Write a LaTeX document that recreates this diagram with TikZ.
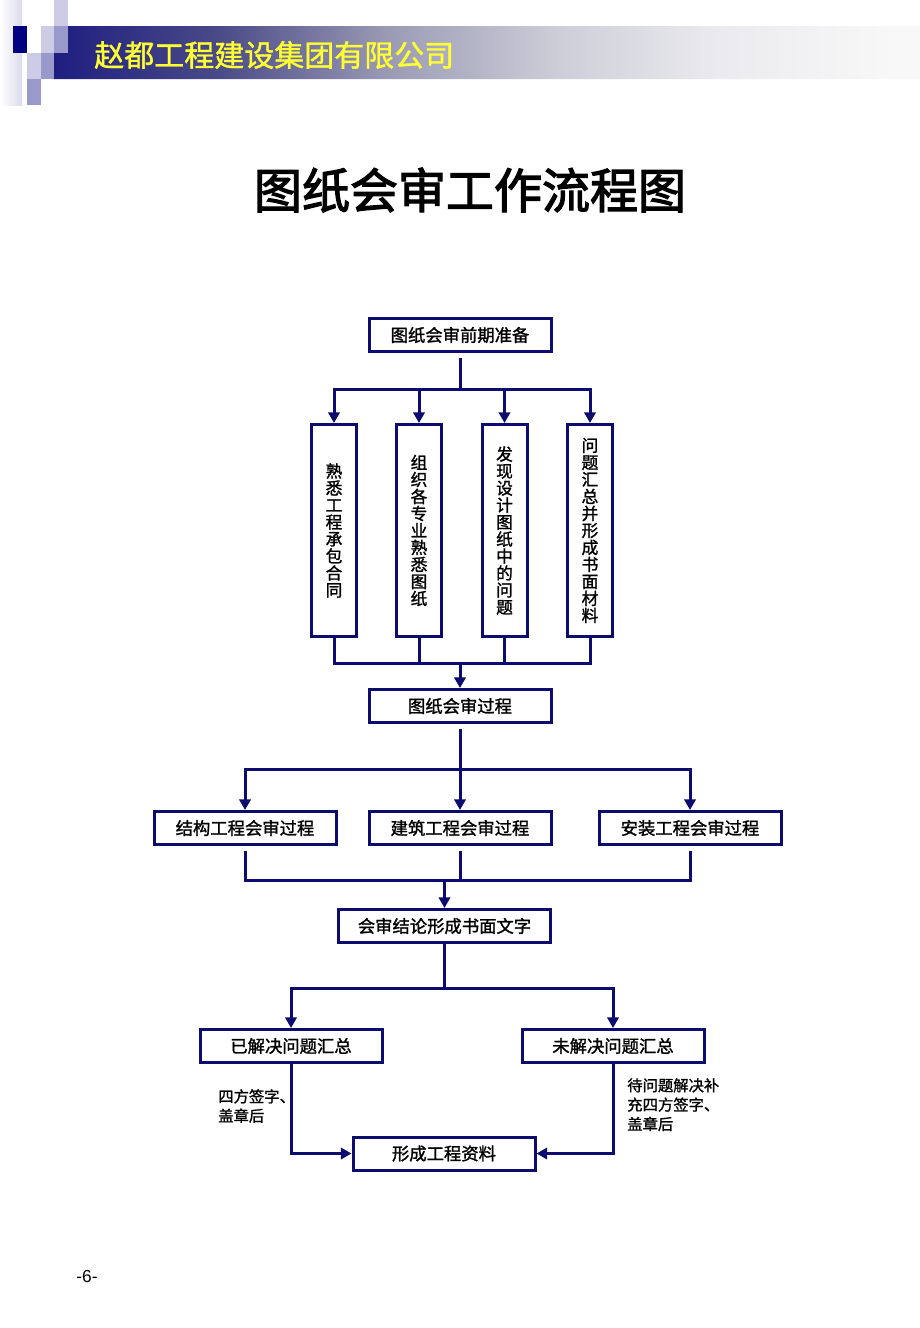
\documentclass[tikz,border=0pt]{standalone}
\usepackage{fontspec}
\usetikzlibrary{arrows.meta}
\newfontfamily\cjk{Noto Sans CJK SC}[FakeBold=1.4]
\newfontfamily\cjklabel{Noto Sans CJK SC}[FakeBold=1.2]
\newfontfamily\cjktitle{Noto Sans CJK SC}[FakeBold=2.5]
\setmainfont{Liberation Sans}
\definecolor{ln}{HTML}{0C0C70}
\definecolor{sqnavy}{HTML}{000080}
\definecolor{sqlight}{HTML}{CCCCE6}
\definecolor{sqmed}{HTML}{9999CC}
\definecolor{hdyellow}{HTML}{FFFF33}
\definecolor{g0}{HTML}{1E1E80}
\definecolor{g1}{HTML}{4A4A88}
\definecolor{g2}{HTML}{9A9AB5}
\definecolor{g3}{HTML}{CDCDD8}
\definecolor{g4}{HTML}{EBEBEF}
\definecolor{g5}{HTML}{F8F8F8}
\pgfdeclarehorizontalshading{hdbar}{100bp}{
  color(0bp)=(g0);
  color(25bp)=(g0);
  color(34.5bp)=(g1);
  color(44.2bp)=(g2);
  color(54bp)=(g3);
  color(63.5bp)=(g4);
  color(73.5bp)=(g5);
  color(100bp)=(g5)}
\tikzset{
  wbox/.style={draw=ln, line width=2.25pt, fill=white, minimum width=136.5pt, minimum height=24.75pt, inner sep=0pt, font=\cjk\fontsize{13pt}{15pt}\selectfont},
  vbox/.style={draw=ln, line width=2.25pt, fill=white, minimum width=33.75pt, minimum height=159pt, inner sep=0pt, align=center, font=\cjk\fontsize{12.5pt}{12.75pt}\selectfont},
  conn/.style={draw=ln, line width=2.25pt},
  arr/.style={conn, -{Triangle[length=8pt,width=8.5pt]}},
  gap/.style={shorten <=3.75pt},
  sidelabel/.style={anchor=north west, inner sep=0pt, align=left, font=\cjklabel\fontsize{11.5pt}{14.5pt}\selectfont}
}
\begin{document}
\begin{tikzpicture}[x=0.75pt,y=-0.75pt]
\useasboundingbox (0,0) rectangle (920,1328);
\fill[white] (0,0) rectangle (920,1328);
% header decoration
\shade[left color=white, right color=sqlight!70!white] (0,0) rectangle (22,105);
\shade[shading=hdbar] (68,26) -- (920,26) -- (920,79) -- (54,79) -- (54,53) -- (68,53) -- cycle;
\fill[sqlight] (54,0) rectangle (68,26);
\fill[sqnavy] (13,26) rectangle (27,53);
\fill[sqlight] (41,26) rectangle (54,53);
\fill[sqmed] (54,26) rectangle (68,53);
\fill[sqlight] (27,53) rectangle (41,79);
\fill[sqmed] (41,53) rectangle (54,79);
\fill[sqmed] (27,79) rectangle (41,105);
\node[anchor=west, inner sep=0pt, text=hdyellow, font=\cjklabel\fontsize{22.5pt}{24pt}\selectfont] (hdr) at (94,55) {赵都工程建设集团有限公司};
% title
\node[inner sep=0pt, font=\cjktitle\fontsize{36pt}{40pt}\selectfont] (title) at (470,190) {图纸会审工作流程图};
% boxes
\node[wbox] (A) at (460,335) {图纸会审前期准备};
\node[vbox] (V1) at (334,530.5) {熟\\悉\\工\\程\\承\\包\\合\\同};
\node[vbox] (V2) at (419,530.5) {组\\织\\各\\专\\业\\熟\\悉\\图\\纸};
\node[vbox] (V3) at (504.5,530.5) {发\\现\\设\\计\\图\\纸\\中\\的\\问\\题};
\node[vbox] (V4) at (590,530.5) {问\\题\\汇\\总\\并\\形\\成\\书\\面\\材\\料};
\node[wbox] (B) at (460,706) {图纸会审过程};
\node[wbox] (S1) at (245,828) {结构工程会审过程};
\node[wbox] (S2) at (460,828) {建筑工程会审过程};
\node[wbox] (S3) at (690,828) {安装工程会审过程};
\node[wbox, minimum width=159pt] (C) at (444.5,926) {会审结论形成书面文字};
\node[wbox] (D) at (291,1046) {已解决问题汇总};
\node[wbox] (E) at (613,1046) {未解决问题汇总};
\node[wbox] (F) at (444,1153.5) {形成工程资料};
% labels
\node[sidelabel] (L1) at (218,1089) {四方签字、\\盖章后};
\node[sidelabel] (L2) at (627,1078) {待问题解决补\\充四方签字、\\盖章后};
\node[inner sep=0pt, font=\fontsize{13pt}{15pt}\selectfont] (pg) at (87,1277) {-6-};
% connectors
\coordinate (bus1) at (460,389);
\coordinate (bus2) at (460,663);
\coordinate (bus3) at (460,769);
\coordinate (bus4) at (444.5,880);
\coordinate (bus5) at (444.5,988);
\draw[conn, gap] (A.south) -- (bus1);
\foreach \v in {V1,V2,V3,V4} {
  \draw[arr] (bus1) -| (\v.north);
  \draw[conn] (\v.south) |- (bus2);
}
\draw[arr] (bus2) -- (B.north);
\draw[conn, gap] (B.south) -- (bus3);
\foreach \s in {S1,S2,S3} {
  \draw[arr] (bus3) -| (\s.north);
  \draw[conn, gap] (\s.south) |- (bus4);
}
\draw[arr] (bus4) -- (C.north);
\draw[conn] (C.south) -- (bus5);
\draw[arr] (bus5) -| (D.north);
\draw[arr] (bus5) -| (E.north);
\draw[arr] (D.south) |- (F.west);
\draw[arr] (E.south) |- (F.east);
\end{tikzpicture}
\end{document}
